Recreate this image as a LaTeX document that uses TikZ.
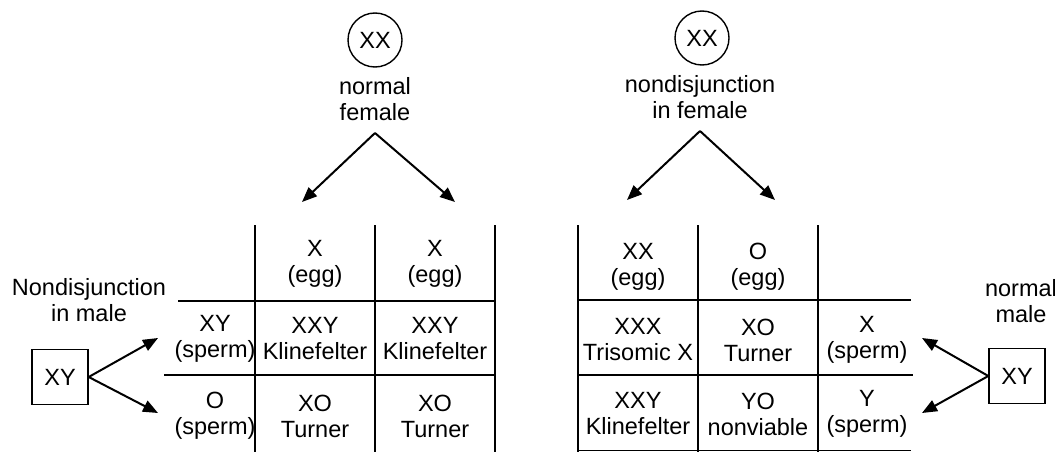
\documentclass[tikz,border=0pt]{standalone}
\usepackage{fontspec}
\setmainfont{Liberation Sans}
\usetikzlibrary{arrows.meta}
\begin{document}
\begin{tikzpicture}[x=1pt,y=-1pt,
  every node/.style={font=\fontsize{23.5}{26}\selectfont, inner sep=0pt},
  cell/.style={align=center},
  label/.style={align=center},
  grid/.style={line width=2.4pt},
  rule/.style={line width=1.8pt},
  thinrule/.style={line width=1pt},
  parent/.style={draw, line width=1.4pt},
  meio/.style={line width=2pt, -{Triangle[length=15pt,width=12pt]}}
]
\useasboundingbox (0,0) rectangle (1055,452);

% ---- left half: normal female x nondisjunction in male ----
\node[parent, circle, minimum size=54pt] (fL) at (375,40) {XX};
\node[label] (fLlbl) at (375,99) {normal\\female};
\coordinate (apL) at (375,133);
\coordinate (eggL1) at (302,202);
\coordinate (eggL2) at (455,202);
\draw[meio] (apL) -- (eggL1);
\draw[meio] (apL) -- (eggL2);

\draw[grid] (255,225) -- (255,452);
\draw[grid] (375,225) -- (375,452);
\draw[grid] (495,225) -- (495,452);
\draw[rule] (178,301) -- (495,301);
\draw[rule] (164,375) -- (495,375);

\node[cell] (eL1) at (315,264) {X\\(egg)};
\node[cell] (eL2) at (435,264) {X\\(egg)};
\node[cell] (sL1) at (215,339) {XY\\(sperm)};
\node[cell] (sL2) at (215,416) {O\\(sperm)};
\node[cell] (cL11) at (315,339) {XXY\\Klinefelter};
\node[cell] (cL12) at (435,339) {XXY\\Klinefelter};
\node[cell] (cL21) at (315,416) {XO\\Turner};
\node[cell] (cL22) at (435,416) {XO\\Turner};

\node[label] (mLlbl) at (89,300) {Nondisjunction\\in male};
\node[parent, minimum width=56pt, minimum height=55pt] (mL) at (60,377) {XY};
\coordinate (spL1) at (158,338);
\coordinate (spL2) at (158,413);
\draw[meio] (mL.east) -- (spL1);
\draw[meio] (mL.east) -- (spL2);

% ---- right half: nondisjunction in female x normal male ----
\node[parent, circle, minimum size=54pt] (fR) at (702,38) {XX};
\node[label] (fRlbl) at (700,97) {nondisjunction\\in female};
\coordinate (apR) at (700,131);
\coordinate (eggR1) at (627,200);
\coordinate (eggR2) at (775,200);
\draw[meio] (apR) -- (eggR1);
\draw[meio] (apR) -- (eggR2);

\draw[grid] (578,225) -- (578,452);
\draw[grid] (698,225) -- (698,452);
\draw[grid] (818,225) -- (818,452);
\draw[rule] (578,300) -- (911,300);
\draw[rule] (578,375) -- (913,375);
\draw[thinrule] (578,450) -- (911,450);

\node[cell] (eR1) at (638,267) {XX\\(egg)};
\node[cell] (eR2) at (758,267) {O\\(egg)};
\node[cell] (cR11) at (638,340) {XXX\\Trisomic X};
\node[cell] (cR12) at (758,340) {XO\\Turner};
\node[cell] (sR1) at (867,340) {X\\(sperm)};
\node[cell] (cR21) at (638,414) {XXY\\Klinefelter};
\node[cell] (cR22) at (758,414) {YO\\nonviable};
\node[cell] (sR2) at (867,414) {Y\\(sperm)};

\node[label] (mRlbl) at (1021,301) {normal\\male};
\node[parent, minimum width=56pt, minimum height=55pt] (mR) at (1017,376) {XY};
\coordinate (spR1) at (922,338);
\coordinate (spR2) at (922,413);
\draw[meio] (mR.west) -- (spR1);
\draw[meio] (mR.west) -- (spR2);
\end{tikzpicture}
\end{document}
